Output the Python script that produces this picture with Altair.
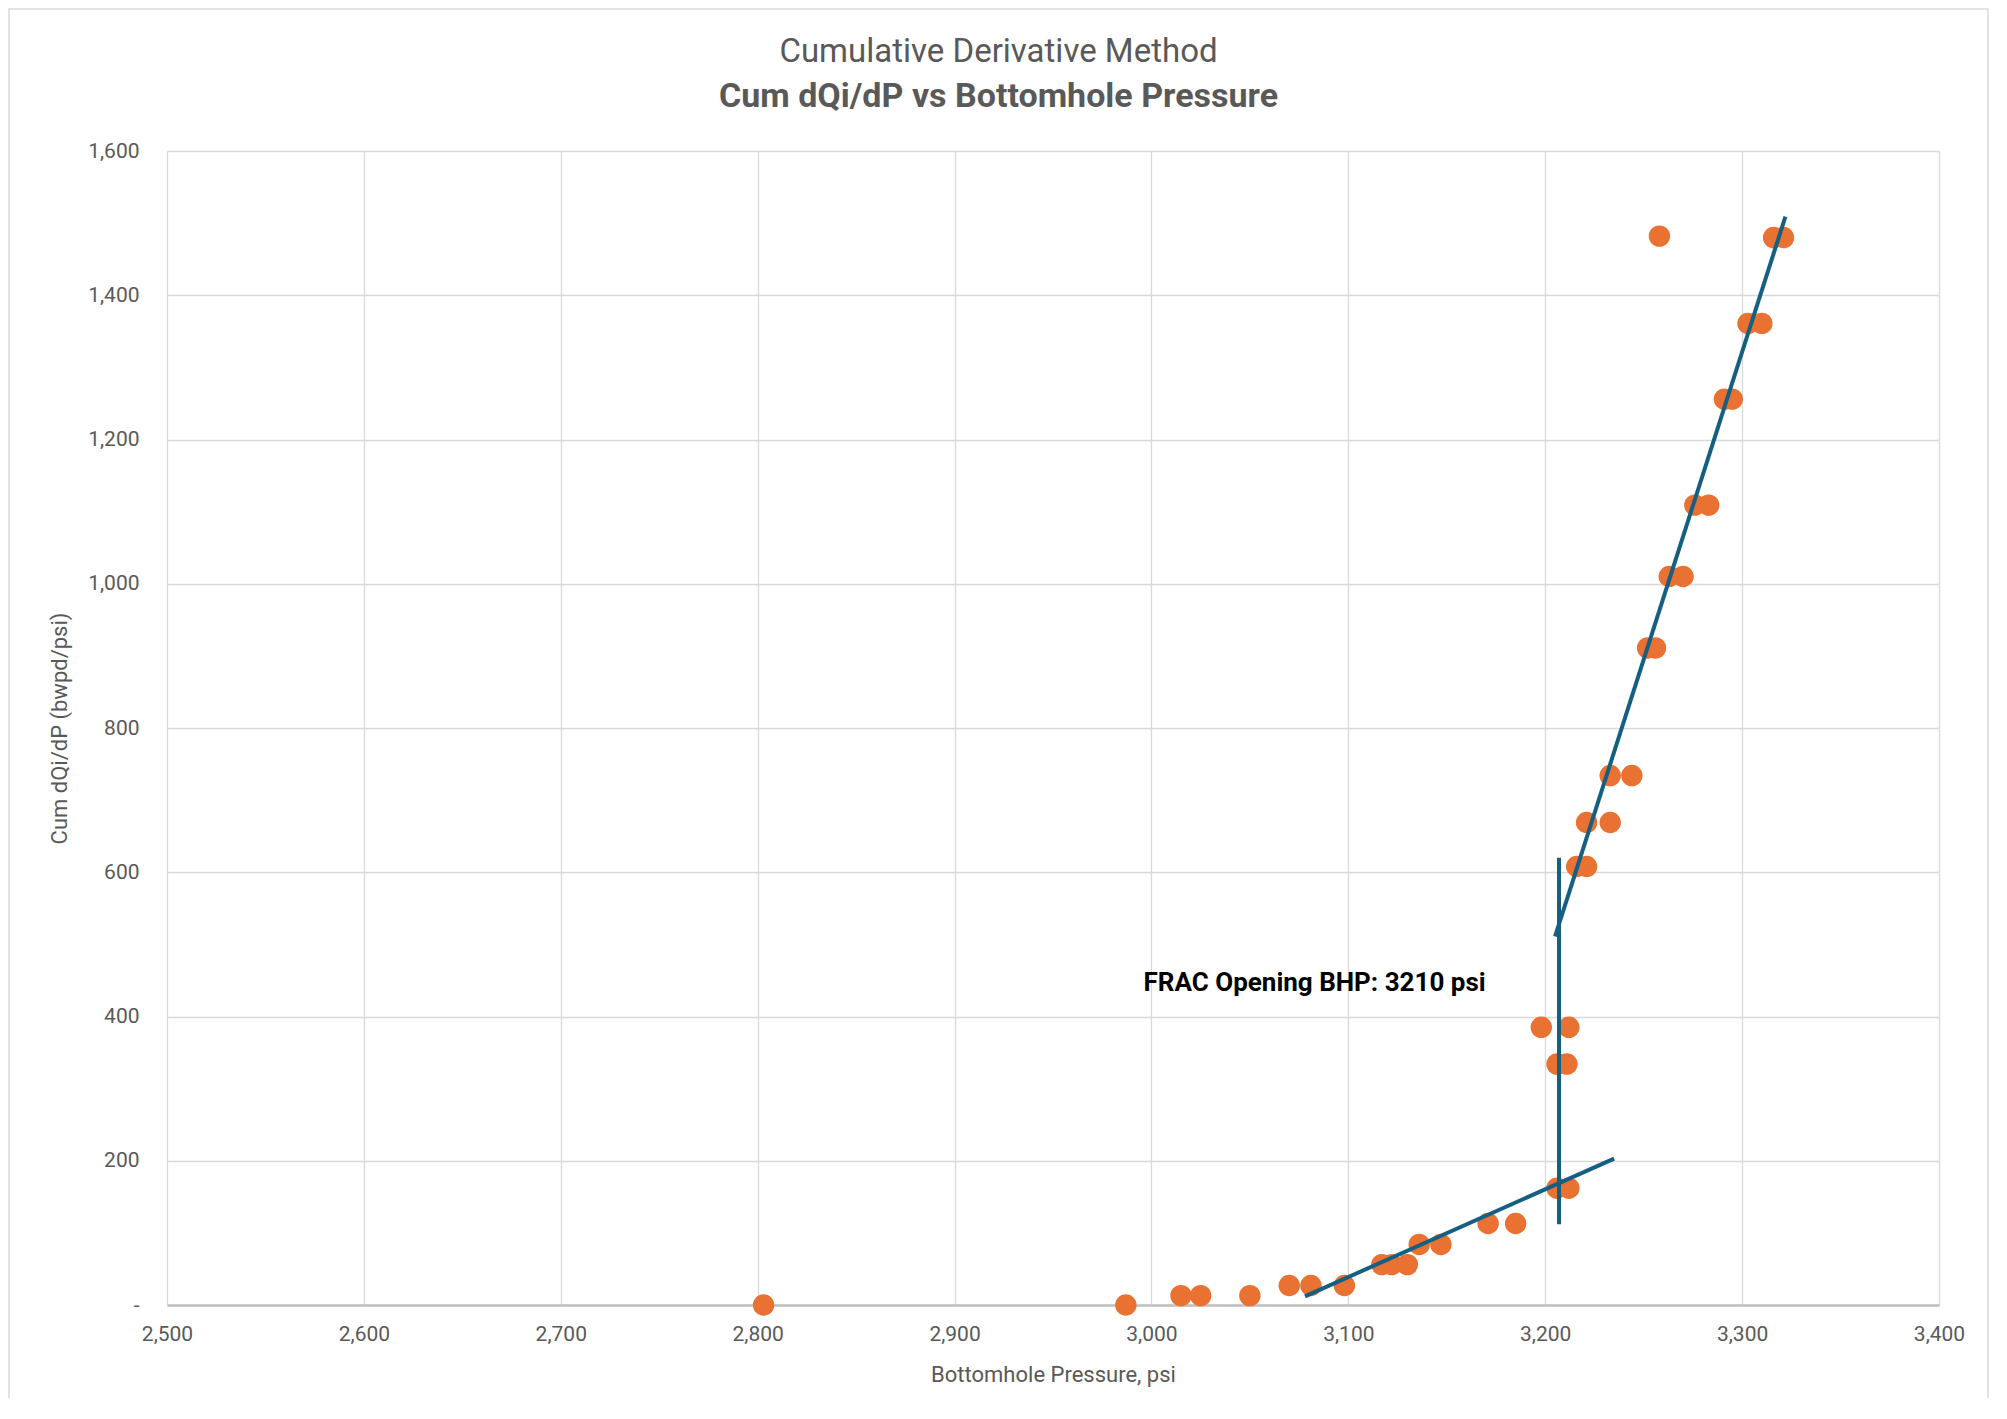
import altair as alt
import pandas as pd

# ---- data ----
pressure = [2803, 2987, 3015, 3025, 3050, 3070, 3081, 3098, 3117, 3122, 3130,
            3136, 3147, 3171, 3185, 3206, 3212, 3198, 3212, 3206, 3211, 3216,
            3221, 3221, 3233, 3233, 3244, 3252, 3256, 3263, 3270, 3276, 3283,
            3291, 3295, 3303, 3310, 3316, 3321, 3258]
cum_dqdp = [0, 0, 13, 13, 13, 27, 27, 27, 56, 56, 56,
            84, 84, 113, 113, 162, 162, 385, 385, 334, 334, 608,
            608, 669, 669, 734, 734, 911, 911, 1010, 1010, 1109, 1109,
            1256, 1256, 1361, 1361, 1480, 1480, 1482]

# trend / marker lines (end points)
line_names = ["low", "low", "high", "high", "frac", "frac"]
line_x = [3078, 3235, 3205, 3322, 3207, 3207]
line_y = [12, 203, 511, 1509, 112, 620]
line_order = [0, 1, 0, 1, 0, 1]

annot_x = [2996]
annot_y = [446]
annot_text = ["FRAC Opening BHP: 3210 psi"]

x_ticks = [2500, 2600, 2700, 2800, 2900, 3000, 3100, 3200, 3300, 3400]
y_ticks = [0, 200, 400, 600, 800, 1000, 1200, 1400, 1600]

pts = pd.DataFrame({"p": pressure, "c": cum_dqdp})
lines = pd.DataFrame({"seg": line_names, "p": line_x, "c": line_y, "o": line_order})
ann = pd.DataFrame({"p": annot_x, "c": annot_y, "t": annot_text})

FONT = "Roboto"
TXT = "#595959"
W, H = 1772, 1154

xscale = alt.Scale(domain=[2500, 3400], nice=False, zero=False)
yscale = alt.Scale(domain=[0, 1600], nice=False)

xaxis = alt.Axis(title="Bottomhole Pressure, psi", values=x_ticks, format=",d",
                 ticks=False, tickSize=0, labelPadding=18, titlePadding=20,
                 labelFlush=False,
                 domain=True, domainColor="#bfbfbf", domainWidth=2.5)
yaxis = alt.Axis(title="Cum dQi/dP (bwpd/psi)", values=y_ticks,
                 labelExpr="datum.value == 0 ? '-' : format(datum.value, ',d')",
                 ticks=False, tickSize=0, labelPadding=28, titlePadding=16,
                 labelFlush=False, domain=False)

points = alt.Chart(pts).mark_circle(size=460, opacity=1, color="#E97132").encode(
    x=alt.X("p:Q", scale=xscale, axis=xaxis),
    y=alt.Y("c:Q", scale=yscale, axis=yaxis),
)

trend = alt.Chart(lines).mark_line(color="#156082", strokeWidth=4).encode(
    x=alt.X("p:Q", scale=xscale),
    y=alt.Y("c:Q", scale=yscale),
    detail="seg:N",
    order="o:Q",
)

label = alt.Chart(ann).mark_text(font=FONT, fontSize=26, fontWeight="bold",
                                 color="#000000", align="left",
                                 baseline="middle").encode(
    x=alt.X("p:Q", scale=xscale),
    y=alt.Y("c:Q", scale=yscale),
    text="t:N",
)

border = alt.Chart(alt.Data(values=[{}])).mark_rect(
    fill="transparent", stroke="#d9d9d9", strokeWidth=1.5
).encode(
    x=alt.value(-158), x2=alt.value(W + 49),
    y=alt.value(-142), y2=alt.value(H + 100),
)

chart = alt.layer(border, points, trend, label).properties(
    width=W, height=H,
    title=alt.TitleParams(
        text="Cumulative Derivative Method",
        subtitle="Cum dQi/dP vs Bottomhole Pressure",
        font=FONT, subtitleFont=FONT,
        fontSize=33, subtitleFontSize=34,
        fontWeight="normal", subtitleFontWeight="bold",
        color=TXT, subtitleColor=TXT,
        anchor="middle", frame="bounds",
        offset=-106, subtitlePadding=11,
    ),
    autosize=alt.AutoSizeParams(type="none"),
    padding={"left": 159, "top": 143, "right": 50, "bottom": 93},
).configure_view(stroke=None).configure_axis(
    labelFont=FONT, titleFont=FONT, labelFontSize=21, titleFontSize=22,
    labelColor=TXT, titleColor=TXT, titleFontWeight="normal",
    gridColor="#d9d9d9", gridWidth=1.3,
)

chart.save("out.html", embed_options={"renderer": "svg", "actions": False})
